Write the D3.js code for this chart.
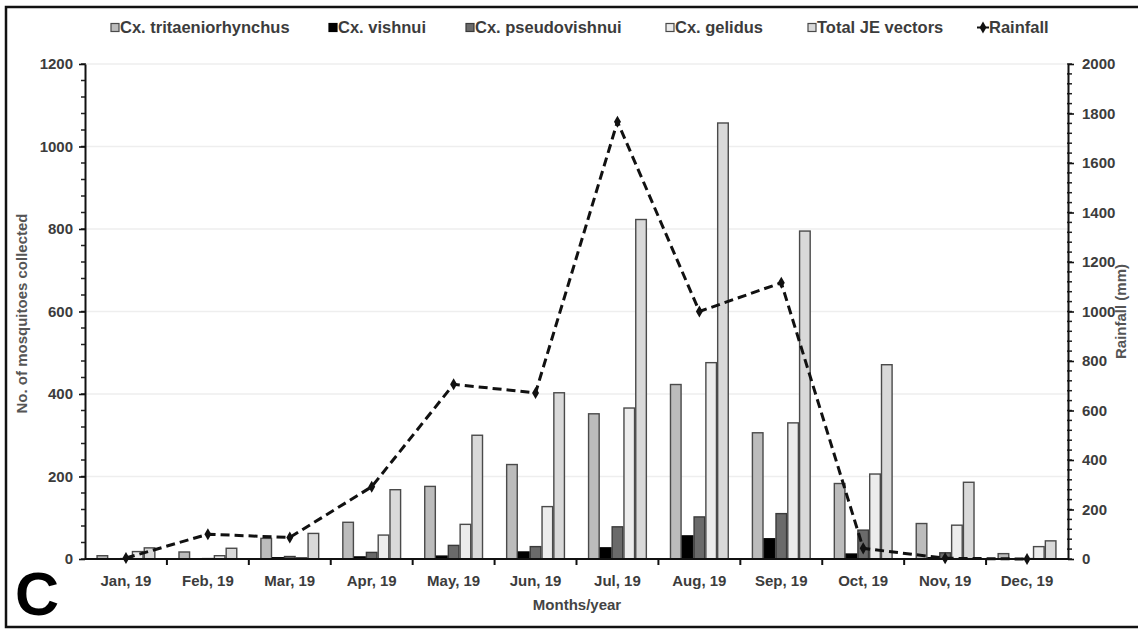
<!DOCTYPE html>
<html>
<head>
<meta charset="utf-8">
<script src="https://cdn.jsdelivr.net/npm/d3@7/dist/d3.min.js"></script>
<style>
  html, body { margin: 0; padding: 0; background: #fff; }
  svg { display: block; }
  text { font-family: "Liberation Sans", Arial, sans-serif; font-weight: bold; }
</style>
</head>
<body>
<svg id="chart" width="1138" height="629"></svg>
<script>
// Monthly mosquito collections (left axis) and rainfall (right axis), 2019
const months = ["Jan, 19", "Feb, 19", "Mar, 19", "Apr, 19", "May, 19", "Jun, 19",
                "Jul, 19", "Aug, 19", "Sep, 19", "Oct, 19", "Nov, 19", "Dec, 19"];

const tritaeniorhynchus = [8, 17, 50, 89, 176, 229, 352, 423, 306, 183, 86, 13];
const vishnui           = [0, 0, 3, 5, 7, 17, 27, 56, 49, 12, 3, 0];
const pseudovishnui     = [1, 1, 6, 16, 33, 30, 78, 102, 110, 70, 15, 1];
const gelidus           = [18, 8, 3, 58, 84, 127, 366, 476, 330, 206, 82, 30];
const totalJE           = [27, 26, 62, 168, 300, 403, 823, 1057, 795, 471, 186, 44];

const rainfall = [4, 100, 87, 292, 706, 671, 1767, 1000, 1116, 43, 3, 0];

const seriesNames = ["Cx. tritaeniorhynchus", "Cx. vishnui", "Cx. pseudovishnui",
                     "Cx. gelidus", "Total JE vectors"];
const seriesValues = [tritaeniorhynchus, vishnui, pseudovishnui, gelidus, totalJE];

const leftTicks  = [0, 200, 400, 600, 800, 1000, 1200];
const rightTicks = [0, 200, 400, 600, 800, 1000, 1200, 1400, 1600, 1800, 2000];

const fills = ["#bcbcbc", "#000000", "#6a6a6a", "#ececec", "#d9d9d9"];
const strokes = ["#4a4a4a", "#000000", "#3a3a3a", "#4a4a4a", "#4a4a4a"];

const svg = d3.select("#chart");
const plot = { left: 85, right: 1068, top: 64, bottom: 559 };

const x0 = d3.scaleBand().domain(months).range([plot.left, plot.right]).padding(0);
const bw = x0.bandwidth();
const x1 = d3.scaleBand().domain(d3.range(seriesNames.length))
  .range([bw * 0.14, bw * 0.86]).padding(0);

const yL = d3.scaleLinear().domain([0, 1200]).range([plot.bottom, plot.top]);
const yR = d3.scaleLinear().domain([0, 2000]).range([plot.bottom, plot.top]);

const tickFont = g => g.selectAll(".tick text").attr("fill", "#3c3c3c")
  .style("font-size", "15px").style("font-family", "'Liberation Sans', Arial, sans-serif")
  .style("font-weight", "bold");

// outer frame
svg.append("rect")
  .attr("x", 6).attr("y", 7).attr("width", 1140).attr("height", 620)
  .attr("fill", "none").attr("stroke", "#111").attr("stroke-width", 2.5);

// faint horizontal gridlines
svg.append("g").selectAll("line").data(leftTicks.filter(d => d > 0)).join("line")
  .attr("x1", plot.left).attr("x2", plot.right)
  .attr("y1", d => yL(d)).attr("y2", d => yL(d))
  .attr("stroke", "#eeeeee").attr("stroke-width", 1.5);

// bars
const groups = svg.append("g").selectAll("g").data(months).join("g")
  .attr("transform", m => `translate(${x0(m)},0)`);

groups.selectAll("rect")
  .data((m, i) => seriesValues.map((vals, s) => ({ s, v: vals[i] })))
  .join("rect")
  .attr("x", d => x1(d.s) + 0.6)
  .attr("width", x1.bandwidth() - 1.2)
  .attr("y", d => yL(d.v))
  .attr("height", d => yL(0) - yL(d.v))
  .attr("fill", d => fills[d.s])
  .attr("stroke", d => strokes[d.s])
  .attr("stroke-width", 1.4);

// left axis with minor ticks
const axL = svg.append("g").attr("transform", `translate(${plot.left},0)`);
axL.append("g").selectAll("line").data(d3.range(0, 1201, 40)).join("line")
  .attr("x1", -4).attr("x2", 1).attr("y1", d => yL(d)).attr("y2", d => yL(d))
  .attr("stroke", "#222").attr("stroke-width", 1.5);
axL.call(d3.axisLeft(yL).tickValues(leftTicks).tickFormat(d3.format("d"))
    .tickSize(6).tickPadding(6).tickSizeOuter(0))
  .call(g => g.select(".domain").attr("stroke", "#111").attr("stroke-width", 2))
  .call(g => g.selectAll(".tick line").attr("stroke", "#111").attr("stroke-width", 1.6))
  .call(tickFont);

// right axis with minor ticks
const axR = svg.append("g").attr("transform", `translate(${plot.right},0)`);
axR.append("g").selectAll("line").data(d3.range(0, 2001, 40)).join("line")
  .attr("x1", -1).attr("x2", 4).attr("y1", d => yR(d)).attr("y2", d => yR(d))
  .attr("stroke", "#222").attr("stroke-width", 1.5);
axR.call(d3.axisRight(yR).tickValues(rightTicks).tickFormat(d3.format("d"))
    .tickSize(6).tickPadding(8).tickSizeOuter(0))
  .call(g => g.select(".domain").attr("stroke", "#111").attr("stroke-width", 2))
  .call(g => g.selectAll(".tick line").attr("stroke", "#111").attr("stroke-width", 1.6))
  .call(tickFont);

// bottom axis: ticks between months, labels centred under each month
const axB = svg.append("g").attr("transform", `translate(0,${plot.bottom})`);
axB.append("line").attr("x1", plot.left).attr("x2", plot.right)
  .attr("stroke", "#111").attr("stroke-width", 2);
axB.selectAll("line.sep").data(months.slice(1)).join("line").attr("class", "sep")
  .attr("x1", m => x0(m)).attr("x2", m => x0(m)).attr("y1", -1).attr("y2", 6)
  .attr("stroke", "#111").attr("stroke-width", 2);
axB.selectAll("text").data(months).join("text")
  .attr("x", m => x0(m) + bw / 2).attr("y", 27)
  .attr("text-anchor", "middle").attr("fill", "#3c3c3c").style("font-size", "15px")
  .text(m => m);

// rainfall line
const line = d3.line()
  .x((d, i) => x0(months[i]) + bw / 2)
  .y(d => yR(d));
svg.append("path").datum(rainfall)
  .attr("d", line).attr("fill", "none").attr("stroke", "#111")
  .attr("stroke-width", 3).attr("stroke-dasharray", "9,5");
svg.append("g").selectAll("path").data(rainfall).join("path")
  .attr("transform", (d, i) => `translate(${x0(months[i]) + bw / 2},${yR(d)})`)
  .attr("d", d3.symbol(d3.symbolDiamond, 42))
  .attr("fill", "#111");

// axis titles
svg.append("text")
  .attr("transform", `translate(27,${(plot.top + plot.bottom) / 2 + 2}) rotate(-90)`)
  .attr("text-anchor", "middle").attr("fill", "#555").style("font-size", "15px")
  .text("No. of mosquitoes collected");
svg.append("text")
  .attr("transform", `translate(1126,${(plot.top + plot.bottom) / 2}) rotate(-90)`)
  .attr("text-anchor", "middle").attr("fill", "#555").style("font-size", "15px")
  .text("Rainfall (mm)");
svg.append("text")
  .attr("x", 577).attr("y", 610).attr("text-anchor", "middle")
  .attr("fill", "#444").style("font-size", "15px")
  .text("Months/year");

// panel letter
svg.append("text").attr("x", 15).attr("y", 615)
  .style("font-size", "61px").style("font-family", "Arial, 'Liberation Sans', sans-serif")
  .attr("fill", "#000").text("C");

// legend
const legendX = [111, 329, 466, 666, 808];
const legend = svg.append("g");
seriesNames.forEach((name, s) => {
  legend.append("rect")
    .attr("x", legendX[s]).attr("y", 23.5).attr("width", 8).attr("height", 8)
    .attr("fill", fills[s]).attr("stroke", strokes[s]).attr("stroke-width", 1.2);
  legend.append("text")
    .attr("x", legendX[s] + 9).attr("y", 33)
    .attr("fill", "#3c3c3c").style("font-size", "16.5px")
    .text(name);
});
legend.append("line").attr("x1", 977).attr("x2", 989).attr("y1", 27.5).attr("y2", 27.5)
  .attr("stroke", "#111").attr("stroke-width", 2);
legend.append("path").attr("transform", "translate(983,27.5)")
  .attr("d", d3.symbol(d3.symbolDiamond, 40)).attr("fill", "#111");
legend.append("text").attr("x", 989).attr("y", 33)
  .attr("fill", "#3c3c3c").style("font-size", "16.5px").text("Rainfall");
</script>
</body>
</html>
